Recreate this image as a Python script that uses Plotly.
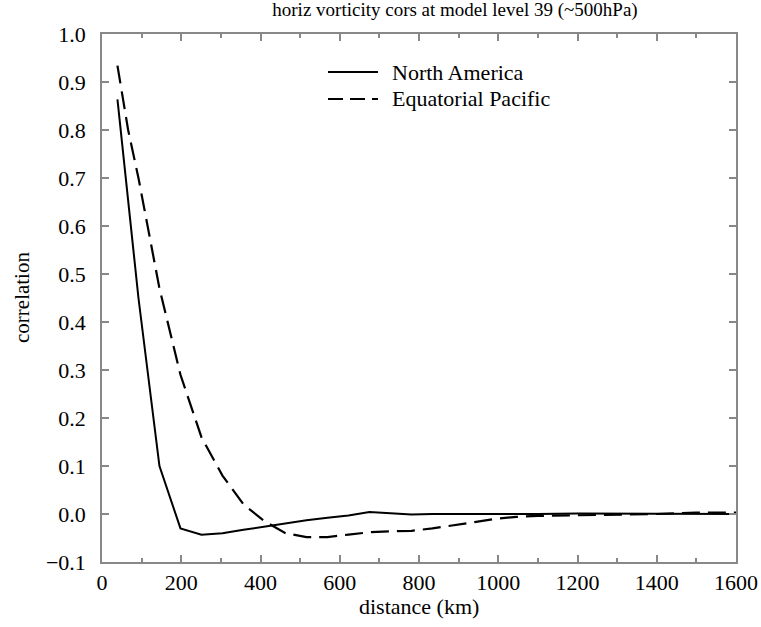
import plotly.graph_objects as go

# distance (km)
na_x = [39, 92, 145, 198, 251, 304, 357, 410, 463, 516, 569, 622, 675, 728, 781, 834, 887, 940, 993, 1046, 1100, 1200, 1300, 1400, 1500, 1600]
na_y = [0.864, 0.45, 0.10, -0.030, -0.043, -0.040, -0.033, -0.026, -0.019, -0.013, -0.008, -0.003, 0.004, 0.002, -0.001, 0.000, 0.000, -0.001, -0.001, 0.000, 0.000, 0.001, 0.001, 0.001, 0.000, 0.000]

ep_x = [39, 66, 92, 145, 198, 251, 304, 357, 410, 463, 516, 569, 622, 675, 728, 781, 834, 887, 940, 993, 1046, 1100, 1200, 1300, 1400, 1500, 1600]
ep_y = [0.934, 0.80, 0.70, 0.47, 0.29, 0.16, 0.08, 0.02, -0.015, -0.040, -0.048, -0.048, -0.043, -0.038, -0.036, -0.035, -0.030, -0.024, -0.017, -0.010, -0.006, -0.004, -0.003, -0.002, 0.000, 0.003, 0.003]

x_ticks = [0, 200, 400, 600, 800, 1000, 1200, 1400, 1600]
y_ticks = [-0.1, 0.0, 0.1, 0.2, 0.3, 0.4, 0.5, 0.6, 0.7, 0.8, 0.9, 1.0]

series_names = ["North America", "Equatorial Pacific"]
series_dash = ["solid", "15px,7px"]

FONT = "Liberation Serif"

fig = go.Figure()
fig.add_trace(go.Scatter(x=na_x, y=na_y, mode="lines", name=series_names[0],
                         line=dict(color="black", width=2, dash=series_dash[0])))
fig.add_trace(go.Scatter(x=ep_x, y=ep_y, mode="lines", name=series_names[1],
                         line=dict(color="black", width=2.2, dash="18px,8px")))

axis_common = dict(showgrid=False, zeroline=False, showline=True, linecolor="#888",
                   linewidth=1.5, mirror="ticks", ticks="inside", tickcolor="#888",
                   tickwidth=1.5, ticklen=7, automargin=False,
                   tickfont=dict(family=FONT, size=22, color="black"))

fig.update_xaxes(range=[0, 1600], tickvals=x_ticks, ticklabelstandoff=0,
                 minor=dict(dtick=100, ticks="inside", ticklen=4, tickcolor="#888", tickwidth=1.5),
                 **axis_common)
fig.update_yaxes(range=[-0.1, 1.0], tickvals=y_ticks, tickformat=".1f", ticklabelstandoff=10,
                 **axis_common)

# legend drawn by hand (paper coords) to match the reference sample lengths/spacing
shapes = []
annotations = []
legend_rows_y = [(562 - 72) / 528, (562 - 99) / 528]
for name, dash, ly in zip(series_names, series_dash, legend_rows_y):
    shapes.append(dict(type="line", xref="paper", yref="paper",
                       x0=(328 - 102) / 634, x1=(378 - 102) / 634, y0=ly, y1=ly,
                       line=dict(color="black", width=2, dash=dash)))
    annotations.append(dict(text=name, xref="paper", yref="paper", x=(390 - 102) / 634, y=ly,
                            xanchor="left", yanchor="middle", showarrow=False,
                            font=dict(family=FONT, size=22, color="black")))

annotations += [
    dict(text="distance (km)", xref="paper", yref="paper", x=0.5, y=(562 - 606) / 528,
         xanchor="center", yanchor="middle", showarrow=False,
         font=dict(family=FONT, size=22, color="black")),
    dict(text="correlation", xref="paper", yref="paper", x=(22 - 102) / 634, y=0.5,
         xanchor="center", yanchor="middle", showarrow=False, textangle=-90,
         font=dict(family=FONT, size=21, color="black")),
]

# plot area target (in window pixels): x 102..736, y 34..562; page margin removed below
fig.update_layout(
    width=761, height=627,
    margin=dict(l=102, r=25, t=34, b=65, autoexpand=False),
    paper_bgcolor="white", plot_bgcolor="white",
    font=dict(family=FONT, color="black"),
    title=dict(text="horiz vorticity cors at model level 39 (~500hPa)",
               font=dict(family=FONT, size=19, color="black"),
               x=455 / 761, xanchor="center", y=1, yanchor="top", pad=dict(t=3)),
    showlegend=False,
    shapes=shapes,
    annotations=annotations,
)

fig.write_html(
    "out.html",
    config={"displayModeBar": False},
    post_script="document.body.style.margin='0';document.documentElement.style.overflow='hidden';",
)
